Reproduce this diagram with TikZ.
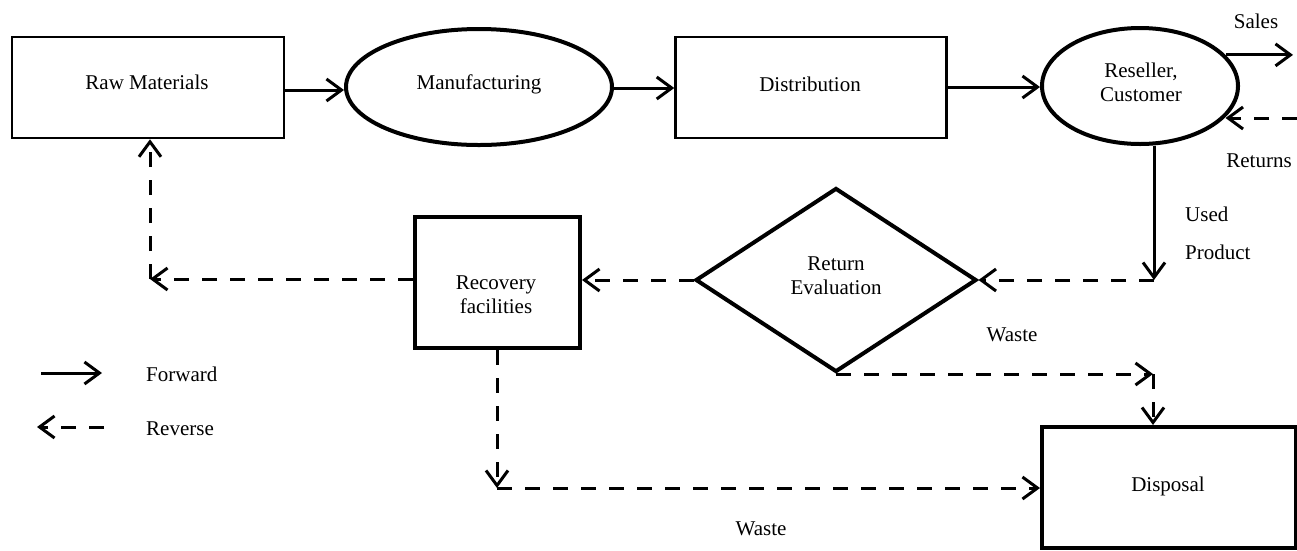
\documentclass[tikz,border=0pt]{standalone}
\usepackage{fontspec}
\setmainfont{Liberation Serif}
\usetikzlibrary{arrows.meta,shapes.geometric}
\begin{document}
\begin{tikzpicture}[x=1pt,y=-1pt,
  every node/.style={font=\fontsize{21}{24}\selectfont},
  boxthin/.style={draw, rectangle, line width=2.5pt, inner sep=0pt},
  boxthick/.style={draw, rectangle, line width=4pt, inner sep=0pt},
  oval/.style={draw, ellipse, line width=4pt, inner sep=0pt},
  decision/.style={draw, diamond, line width=4pt, inner sep=0pt},
  txt/.style={inner sep=0pt, align=center},
  fwd/.style={line width=3pt, -{Straight Barb[length=15pt,width=22pt]}},
  rev/.style={line width=3pt, dash pattern=on 15pt off 13pt, -{Straight Barb[length=15pt,width=22pt]}}]
\useasboundingbox (0,0) rectangle (1297,550);

% shapes
\node[boxthin, minimum width=272pt, minimum height=101pt] (raw) at (148,87.5) {};
\node[oval, minimum width=266pt, minimum height=116pt] (manu) at (479,87) {};
\node[boxthin, minimum width=271pt, minimum height=101pt] (dist) at (811,87.5) {};
\node[oval, minimum width=196pt, minimum height=116pt] (res) at (1140,86) {};
\node[decision, minimum width=281pt, minimum height=184pt] (eval) at (836,280) {};
\node[boxthick, minimum width=165pt, minimum height=131pt] (rec) at (497.5,282.5) {};
\node[boxthick, minimum width=254pt, minimum height=121pt] (disp) at (1169,487.5) {};

% texts
\node[txt] (traw) at (147,82) {Raw Materials};
\node[txt] (tmanu) at (479,84) {Manufacturing};
\node[txt] (tdist) at (810,84) {Distribution};
\node[txt] (tres) at (1141,82) {Reseller,\\Customer};
\node[txt] (teval) at (836,276) {Return\\Evaluation};
\node[txt] (trec) at (496,295) {Recovery\\facilities};
\node[txt] (tdisp) at (1168,486) {Disposal};
\node[txt] (tsales) at (1256,21) {Sales};
\node[txt] (treturns) at (1259,161) {Returns};
\node[txt, align=left, anchor=west] (tused) at (1185,233) {Used\\[14pt]Product};
\node[txt] (twaste1) at (1012,335) {Waste};
\node[txt] (twaste2) at (761,529) {Waste};
\node[txt, anchor=west] (tfwd) at (146,374) {Forward};
\node[txt, anchor=west] (trev) at (146,429) {Reverse};

% corner points
\coordinate (salesend) at (1293,0);
\coordinate (retstart) at (1297,118);
\coordinate (c1) at (1154,280);
\coordinate (c2) at (150,279);
\coordinate (c3) at (497,488);
\coordinate (c4) at (1153,372);
\coordinate (lf1) at (41,373);
\coordinate (lf2) at (102,373);
\coordinate (lr1) at (104,427);
\coordinate (lr2) at (37,427);

% forward connectors
\draw[fwd] (raw.east |- 0,90) -- (manu.west |- 0,90);
\draw[fwd] (manu.east |- 0,88) -- (dist.west |- 0,88);
\draw[fwd] (dist.east |- 0,87) -- (res.west |- 0,87);
\draw[fwd] (res.20) -- (res.20 -| salesend);
\draw[fwd] (c1 |- res.south) -- (c1);

% reverse connectors
\draw[rev] (retstart) -- (retstart -| res.-20);
\draw[rev] (c1) -- (eval.east);
\draw[rev] (eval.west) -- (eval.west -| rec.east);
\draw[rev] (c2 -| rec.west) -- (c2);
\draw[rev] (c2) -- (c2 |- raw.south);
\draw[rev] (c3 |- rec.south) -- (c3);
\draw[rev] (c3) -- (c3 -| disp.west);
\draw[rev] (eval.south) -- (eval.south -| c4);
\draw[rev] (eval.south -| c4) -- (c4 |- disp.north);

% legend
\draw[fwd] (lf1) -- (lf2);
\draw[rev] (lr1) -- (lr2);
\end{tikzpicture}
\end{document}
